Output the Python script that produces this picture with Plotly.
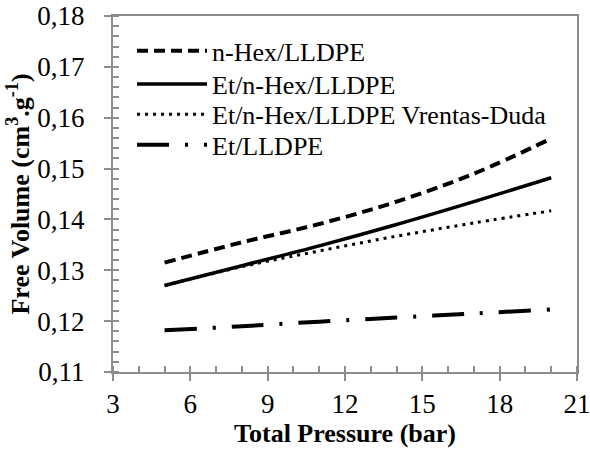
import plotly.graph_objects as go

pressure = [5, 8, 11, 14, 17, 20]
nhex_lldpe = [0.1315, 0.1355, 0.1391, 0.1435, 0.1490, 0.1559]
et_nhex_lldpe = [0.1270, 0.1309, 0.1348, 0.1390, 0.1435, 0.1482]
et_nhex_vd = [0.1270, 0.1307, 0.1338, 0.1367, 0.1393, 0.1417]
et_lldpe = [0.1182, 0.1190, 0.1199, 0.1207, 0.1215, 0.1223]

names = ["n-Hex/LLDPE", "Et/n-Hex/LLDPE", "Et/n-Hex/LLDPE Vrentas-Duda", "Et/LLDPE"]
series = [nhex_lldpe, et_nhex_lldpe, et_nhex_vd, et_lldpe]
dashes = ["11px,6px", "solid", "3px,5px", "32px,16px,3px,16px"]
widths = [4, 3.5, 3, 4]
legend_ids = ["legend", "legend2", "legend3", "legend4"]
legend_y = [0.902, 0.8085, 0.724, 0.638]

FONT = "Times New Roman, Liberation Serif, serif"
GRAY = "#8c8c8c"
fig = go.Figure()
for n, s, d, w, lg in zip(names, series, dashes, widths, legend_ids):
    fig.add_trace(go.Scatter(x=pressure, y=s, mode="lines", name=n, legend=lg,
                             line=dict(color="black", width=w, dash=d, shape="spline")))

axis_common = dict(showline=True, linecolor=GRAY, linewidth=2, mirror=True,
                   ticks="outside", ticklen=7, tickcolor=GRAY, tickwidth=2,
                   showgrid=False, zeroline=False, automargin=False,
                   ticklabeloverflow="allow",
                   tickfont=dict(family=FONT, size=27, color="black"))
fig.update_xaxes(range=[3, 21], dtick=3, tick0=3, ticklabelstandoff=0,
                 minor=dict(dtick=1, ticks="inside", ticklen=6, tickcolor=GRAY, tickwidth=1.5),
                 title=dict(text="<b>Total Pressure (bar)</b>", font=dict(family=FONT, size=26, color="black"), standoff=4),
                 **axis_common)
fig.update_yaxes(range=[0.11, 0.18], dtick=0.01, tickformat=".2f", ticklabelstandoff=14,
                 minor=dict(dtick=0.002, ticks="inside", ticklen=6, tickcolor=GRAY, tickwidth=1.5),
                 title=dict(text="<b>Free Volume (cm<sup>3</sup>.g<sup>-1</sup>)</b>", font=dict(family=FONT, size=26, color="black"), standoff=0),
                 **axis_common)

# inner half of the crossing major ticks
fig.update_layout(
    xaxis2=dict(overlaying="x", anchor="y", side="bottom", range=[3, 21], dtick=3, tick0=3,
                ticks="inside", ticklen=7, tickcolor=GRAY, tickwidth=2, showticklabels=False,
                showgrid=False, zeroline=False, showline=False),
    yaxis2=dict(overlaying="y", anchor="x", side="left", range=[0.11, 0.18], dtick=0.01,
                ticks="inside", ticklen=7, tickcolor=GRAY, tickwidth=2, showticklabels=False,
                showgrid=False, zeroline=False, showline=False),
)

legend_common = dict(x=0.041, xanchor="left", yanchor="middle", bgcolor="rgba(0,0,0,0)",
                     font=dict(family=FONT, size=26, color="black"), itemwidth=70)
layout_legends = {lg: dict(y=yy, **legend_common) for lg, yy in zip(legend_ids, legend_y)}

fig.update_layout(width=590, height=452, margin=dict(l=113, r=13, t=16, b=80),
                  paper_bgcolor="white", plot_bgcolor="white",
                  separators=", ",
                  font=dict(family=FONT),
                  showlegend=True, **layout_legends)
fig.write_html("out.html", config={"displayModeBar": False},
               post_script="document.body.style.margin='0';")
